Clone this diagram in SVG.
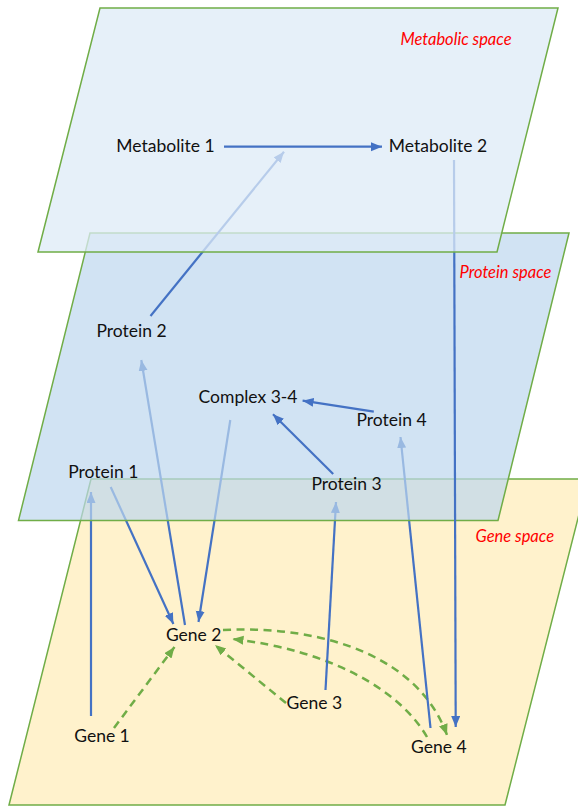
<svg xmlns="http://www.w3.org/2000/svg" width="578" height="807" viewBox="0 0 578 807">
  <style>
    .plane { stroke: #70AD47; stroke-width: 1.5; stroke-linejoin: miter; }
    .label { font-family: Lato, "Liberation Sans", sans-serif; font-size: 17.5px; fill: #111; text-anchor: middle; }
    .space { font-family: Lato, "Liberation Sans", sans-serif; font-size: 16.5px; font-style: italic; fill: #FF0000; text-anchor: middle; }
    .link { fill: none; stroke: #4472C4; stroke-width: 2.2; marker-end: url(#arrow-blue); }
    .reg { fill: none; stroke: #70AD47; stroke-width: 2.5; stroke-dasharray: 8 5.5; marker-end: url(#arrow-green); }
  </style>
  <defs>
    <marker id="arrow-blue" markerUnits="userSpaceOnUse" markerWidth="12" markerHeight="10" refX="11" refY="4.5" orient="auto">
      <path d="M0,0 L11,4.5 L0,9 Z" fill="#4472C4"/>
    </marker>
    <marker id="arrow-green" markerUnits="userSpaceOnUse" markerWidth="12" markerHeight="10" refX="11" refY="4.5" orient="auto">
      <path d="M0,0 L11,4.5 L0,9 Z" fill="#70AD47"/>
    </marker>
  </defs>

  <!-- gene layer (bottom) -->
  <polygon id="gene-space" class="plane" points="91,479 588,479 505,805 9,805" fill="#FFF2CC"/>

  <!-- connectors running in and out of the gene layer -->
  <g id="connectors-gene">
    <path class="reg" d="M114,728 L174.5,647"/>
    <path class="reg" d="M286,703 L215,645"/>
    <path class="reg" d="M223,630 C330,625 420,660 447,735"/>
    <path class="reg" d="M427,737 C400,690 330,650 232.5,639"/>
    <path class="link" d="M91,716 L91,492"/>
    <path class="link" d="M325.5,690 L336,502"/>
    <path class="link" d="M430.5,728 L400.5,437"/>
    <path class="link" d="M185,625 L141.3,360"/>
    <path class="link" d="M110.7,487 L173.4,624"/>
    <path class="link" d="M230.3,420 L198.5,622"/>
  </g>

  <!-- protein layer -->
  <polygon id="protein-space" class="plane" points="90,233 569,233 498,520.5 18.5,520.5" fill="#BDD7EE" fill-opacity="0.7"/>

  <!-- connectors on the protein layer -->
  <g id="connectors-protein">
    <path class="link" d="M373.8,411.7 L302.6,400.7"/>
    <path class="link" d="M333.2,474 L273,414.3"/>
    <path class="link" d="M150.5,316 L284,151.7"/>
    <path class="link" d="M454,160 L455.7,727"/>
  </g>

  <!-- metabolic layer (top) -->
  <polygon id="metabolic-space" class="plane" points="100,8 558,8 497,252 38,252" fill="#DEEBF7" fill-opacity="0.75"/>

  <g id="connectors-metabolic">
    <path class="link" d="M224,146.7 L382,146.7"/>
  </g>

  <!-- layer titles -->
  <text class="space" x="456" y="45">Metabolic space</text>
  <text class="space" x="505.5" y="278">Protein space</text>
  <text class="space" x="514.8" y="542">Gene space</text>

  <!-- nodes -->
  <g id="metabolite-1"><text class="label" x="165.5" y="152">Metabolite 1</text></g>
  <g id="metabolite-2"><text class="label" x="438" y="152">Metabolite 2</text></g>
  <g id="protein-2"><text class="label" x="131.5" y="337">Protein 2</text></g>
  <g id="complex-3-4"><text class="label" x="248" y="403">Complex 3-4</text></g>
  <g id="protein-4"><text class="label" x="391.5" y="426">Protein 4</text></g>
  <g id="protein-1"><text class="label" x="103.3" y="478">Protein 1</text></g>
  <g id="protein-3"><text class="label" x="346.6" y="490">Protein 3</text></g>
  <g id="gene-2"><text class="label" x="193.7" y="641">Gene 2</text></g>
  <g id="gene-1"><text class="label" x="102" y="742">Gene 1</text></g>
  <g id="gene-3"><text class="label" x="314.4" y="709">Gene 3</text></g>
  <g id="gene-4"><text class="label" x="438.8" y="753">Gene 4</text></g>
</svg>
